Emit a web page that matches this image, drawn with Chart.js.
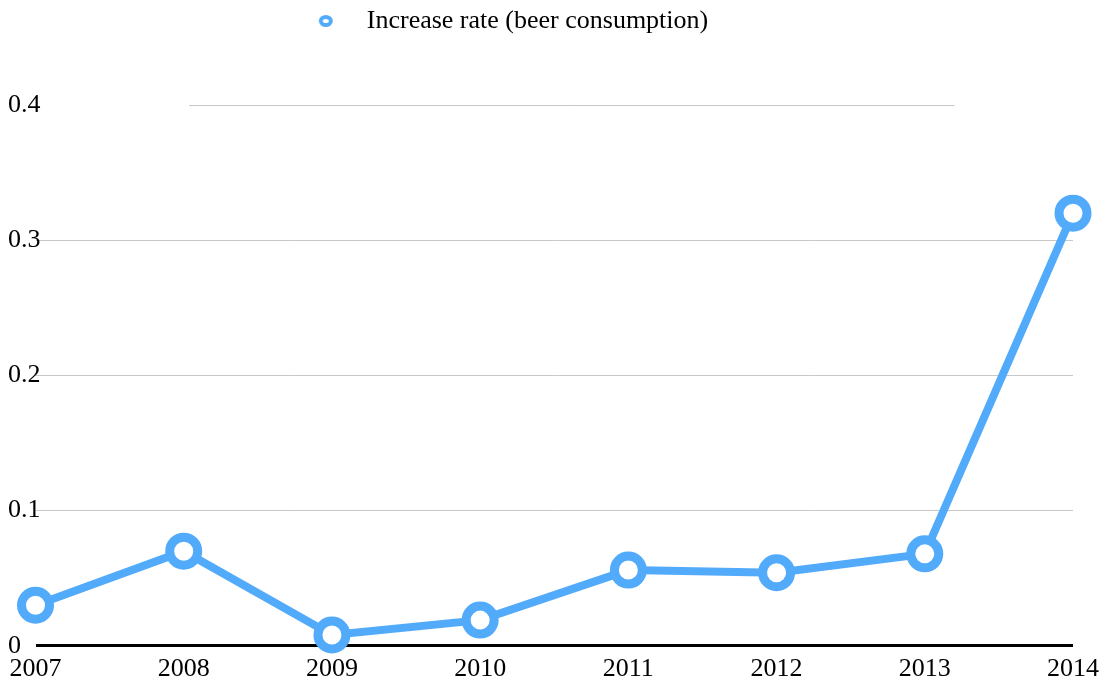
<!DOCTYPE html>
<html>
<head>
<meta charset="utf-8">
<script src="https://cdn.jsdelivr.net/npm/chart.js@4/dist/chart.umd.min.js"></script>
<style>
  html, body { margin: 0; padding: 0; background: #fff; }
  #wrap { width: 1107px; height: 686px; }
</style>
</head>
<body>
<div id="wrap"><canvas id="myChart"></canvas></div>
<script>
const years = ['2007', '2008', '2009', '2010', '2011', '2012', '2013', '2014'];
const increaseRate = [0.030, 0.070, 0.008, 0.019, 0.056, 0.054, 0.068, 0.320];
const yTicks = [0, 0.1, 0.2, 0.3, 0.4];

const blue = '#52AAFA';
const serif = "'Liberation Serif', 'Times New Roman', serif";

// small ring used as the legend marker
const ring = document.createElement('canvas');
ring.width = 16;
ring.height = 14;
(function () {
  const c = ring.getContext('2d');
  c.strokeStyle = blue;
  c.lineWidth = 4;
  c.beginPath();
  c.ellipse(8, 7, 5, 4, 0, 0, Math.PI * 2);
  c.stroke();
})();

// legend sits high, chart area starts further down; legend a bit left of centre
const layoutTweaks = {
  id: 'layoutTweaks',
  beforeInit(chart) {
    const fit = chart.legend.fit;
    chart.legend.fit = function () {
      fit.bind(chart.legend)();
      this.height += 61;
    };
  },
  afterLayout(chart) {
    chart.legend.right -= 96;
    // y labels overlap the plot edge a little in the original
    chart.scales.y.left += 5;
    chart.scales.y.right += 5;
  }
};

// top gridline only spans the middle part in the original
const topGrid = {
  id: 'topGrid',
  beforeDatasetsDraw(chart) {
    const { ctx, chartArea, scales } = chart;
    const w = chartArea.right - chartArea.left;
    const y = Math.round(scales.y.getPixelForValue(0.4)) + 0.5;
    ctx.save();
    ctx.strokeStyle = '#c8c8c8';
    ctx.lineWidth = 1;
    ctx.beginPath();
    ctx.moveTo(chartArea.left + w * 0.148, y);
    ctx.lineTo(chartArea.left + w * 0.886, y);
    ctx.stroke();
    ctx.restore();
  }
};

new Chart(document.getElementById('myChart').getContext('2d'), {
  type: 'line',
  data: {
    labels: years,
    datasets: [{
      label: 'Increase rate (beer consumption)',
      data: increaseRate,
      borderColor: blue,
      backgroundColor: '#ffffff',
      borderWidth: 8,
      pointRadius: 14,
      pointHoverRadius: 14,
      pointBorderWidth: 9,
      pointBackgroundColor: '#ffffff',
      pointBorderColor: blue,
      tension: 0,
      clip: false
    }]
  },
  options: {
    responsive: true,
    maintainAspectRatio: false,
    animation: false,
    layout: { padding: { left: 3, right: 8, top: 0, bottom: -7 } },
    plugins: {
      legend: {
        position: 'top',
        labels: {
          usePointStyle: true,
          pointStyle: ring,
          pointStyleWidth: 56,
          boxHeight: 14,
          padding: 8,
          color: '#000',
          font: { family: serif, size: 26 }
        }
      },
      tooltip: { enabled: false }
    },
    scales: {
      x: {
        offset: false,
        grid: { display: false, drawTicks: false },
        border: { display: false },
        ticks: {
          color: '#000',
          padding: 8,
          maxRotation: 0,
          autoSkip: false,
          font: { family: serif, size: 26 }
        }
      },
      y: {
        min: 0,
        max: 0.4,
        afterBuildTicks(scale) {
          scale.ticks = yTicks.map(v => ({ value: v }));
        },
        grid: {
          drawTicks: false,
          color: ctx => ctx.tick && ctx.tick.value === 0 ? '#000' :
            (ctx.tick && ctx.tick.value === 0.4 ? 'rgba(0,0,0,0)' : '#c8c8c8'),
          lineWidth: ctx => ctx.tick && ctx.tick.value === 0 ? 3 : 1
        },
        border: { display: false },
        ticks: {
          color: '#000',
          padding: 0,
          crossAlign: 'far',
          font: { family: serif, size: 26 },
          callback: v => v === 0 ? '0' : String(v)
        }
      }
    }
  },
  plugins: [layoutTweaks, topGrid]
});
</script>
</body>
</html>
